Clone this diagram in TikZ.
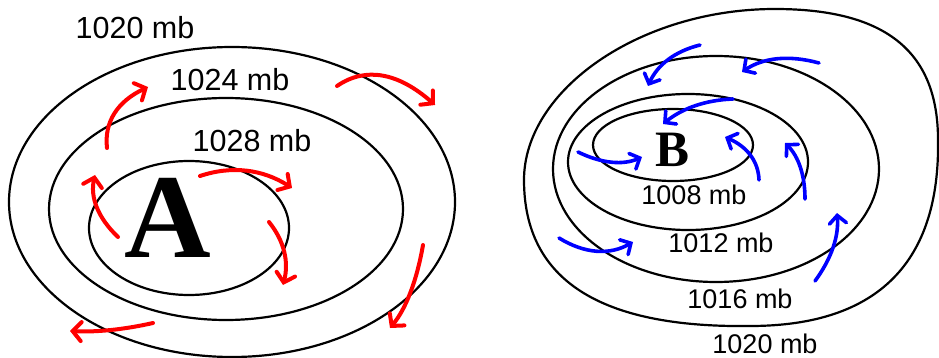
\documentclass[tikz,border=0pt]{standalone}
\usepackage{fontspec}
\setmainfont{Liberation Sans}
\newfontfamily\serifbold{Liberation Serif}[BoldFont={* Bold}]
\usetikzlibrary{arrows.meta}
\begin{document}
\begin{tikzpicture}[x=1pt,y=-1pt,
  iso/.style={line width=2.2pt,black},
  redarrow/.style={line width=4pt,red,line cap=round,-{Straight Barb[length=8.5pt,width=19pt,line cap=round]}},
  bluearrow/.style={line width=3.6pt,blue,line cap=round,-{Straight Barb[length=8pt,width=17pt,line cap=round]}},
  biglbl/.style={font=\fontsize{30.5}{32}\selectfont,inner sep=0pt},
  smalllbl/.style={font=\fontsize{27}{29}\selectfont,inner sep=0pt}]
\useasboundingbox (0,0) rectangle (939,358);
% ---- High pressure (left)
\draw[iso] (232,202) ellipse [x radius=223,y radius=155];
\draw[iso] (226,209) ellipse [x radius=177,y radius=111];
\draw[iso] (189,228) ellipse [x radius=100,y radius=67];
\node[biglbl] (l1020a) at (135,28) {1020 mb};
\node[biglbl] (l1024) at (230,80) {1024 mb};
\node[biglbl] (l1028) at (252,141) {1028 mb};
\node[inner sep=0pt,anchor=base,font=\fontsize{120}{120}\selectfont\serifbold\bfseries] (A) at (168,257) {A};
\draw[redarrow] (107,148) .. controls (104,121.7) and (117.7,101.3) .. (148,87);
\draw[redarrow] (337,86) .. controls (365.7,66.3) and (398.3,72.7) .. (435,105);
\draw[redarrow] (118,237) .. controls (97.7,217.7) and (90,197) .. (95,175);
\draw[redarrow] (200,176) .. controls (232,165.3) and (262.7,169.3) .. (292,188);
\draw[redarrow] (269,222) .. controls (284.3,241) and (289,262) .. (283,285);
\draw[redarrow] (423,245) .. controls (416.7,281.3) and (405.7,309) .. (390,328);
\draw[redarrow] (153,323) .. controls (123.3,329.7) and (95.7,332.3) .. (70,331);
% ---- Low pressure (right)
\draw[iso] (524,180) .. controls (524,90) and (640,9) .. (775,9)
  .. controls (890,9) and (938,55) .. (938,140)
  .. controls (940,260) and (880,326) .. (750,326)
  .. controls (600,328) and (524,280) .. cycle;
\draw[iso] (716,169) ellipse [x radius=163,y radius=113];
\draw[iso] (688,162) ellipse [x radius=120,y radius=68];
\draw[iso] (673,145) ellipse [x radius=80,y radius=36];
\node[smalllbl] (l1008) at (694,195) {1008 mb};
\node[smalllbl] (l1012) at (721,243) {1012 mb};
\node[smalllbl] (l1016) at (740,299) {1016 mb};
\node[smalllbl] (l1020b) at (765,344) {1020 mb};
\node[inner sep=0pt,anchor=base,font=\fontsize{51}{51}\selectfont\serifbold\bfseries] (B) at (672,167) {B};
\draw[bluearrow] (700,45) .. controls (674.7,51.3) and (657.3,65) .. (648,86);
\draw[bluearrow] (819,63) .. controls (788.7,54.7) and (763,57.7) .. (742,72);
\draw[bluearrow] (733,99) .. controls (705.7,100) and (682.3,108.3) .. (663,124);
\draw[bluearrow] (578,152) .. controls (602,163.7) and (623.3,165.3) .. (642,157);
\draw[bluearrow] (759,180) .. controls (758.3,161) and (747,146.7) .. (725,137);
\draw[bluearrow] (805,199) .. controls (805,175) and (798.3,156.3) .. (785,143);
\draw[bluearrow] (815,281) .. controls (831.7,258.3) and (839,235.7) .. (837,213);
\draw[bluearrow] (559,238) .. controls (585,254) and (609.7,255.3) .. (633,242);
\end{tikzpicture}
\end{document}
